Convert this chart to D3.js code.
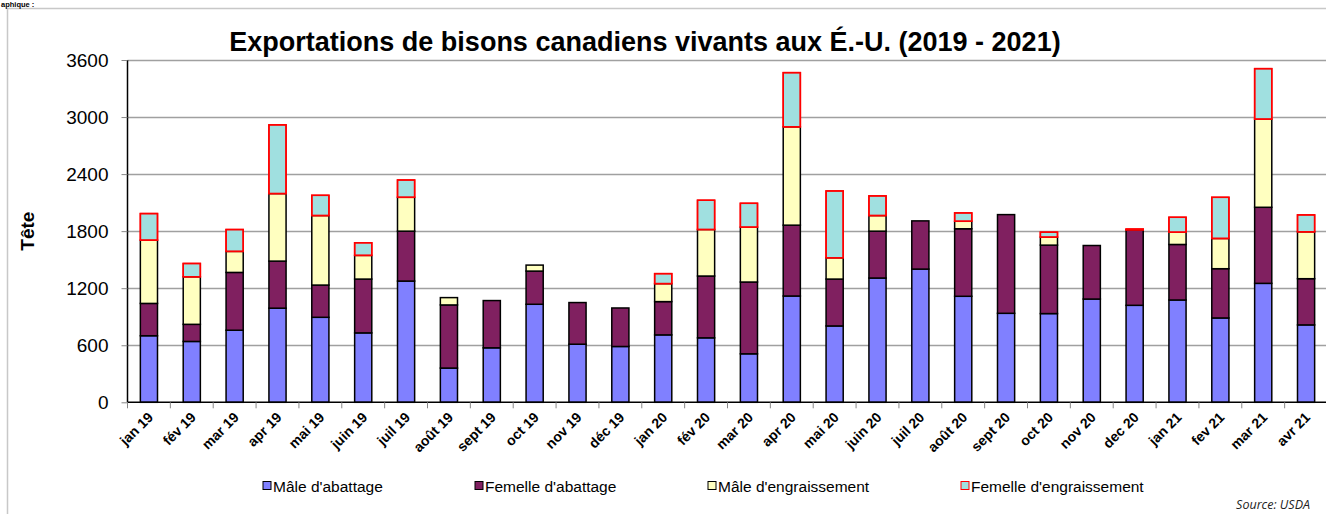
<!DOCTYPE html>
<html>
<head>
<meta charset="utf-8">
<script src="https://cdn.jsdelivr.net/npm/d3@7"></script>
<style>
  html, body { margin: 0; padding: 0; background: #fff; }
  svg { display: block; }
</style>
</head>
<body>
<svg id="chart" width="1326" height="514"></svg>
<script>
// ---- Data ----
const categories = ["jan 19","fév 19","mar 19","apr 19","mai 19","juin 19","juil 19","août 19","sept 19","oct 19","nov 19","déc 19",
  "jan 20","fév 20","mar 20","apr 20","mai 20","juin 20","juil 20","août 20","sept 20","oct 20","nov 20","dec 20",
  "jan 21","fev 21","mar 21","avr 21"];
const seriesNames = ["Mâle d'abattage","Femelle d'abattage","Mâle d'engraissement","Femelle d'engraissement"];
const maleAbattage =      [700, 640, 758, 990, 894, 730,1275, 360, 573,1031, 611, 587, 709, 678, 510,1118, 803,1307,1401,1115, 936, 933,1086,1020,1076, 887,1251, 814];
const femelleAbattage =   [340, 180, 608, 495, 339, 566, 525, 664, 497, 349, 438, 405, 350, 650, 755, 745, 493, 493, 507, 710,1038, 720, 563, 794, 584, 518, 800, 486];
const maleEngraissement = [665, 500, 221, 710, 731, 249, 356,  77,   0,  63,   0,   0, 189, 489, 577,1034, 224, 164,   0,  79,   0,  84,   0,   0, 129, 318, 927, 493];
const femelleEngraissement=[280,140, 230, 723, 213, 133, 182,   0,   0,   0,   0,   0, 105, 308, 251, 570, 703, 207,   0,  88,   0,  52,   0,   8, 157, 433, 531, 178];
const yTicks = [0, 600, 1200, 1800, 2400, 3000, 3600];
const titleText = "Exportations de bisons canadiens vivants aux É.-U. (2019 - 2021)";
const yLabel = "Tête";
const sourceText = "Source: USDA";
const headerText = "aphique :";

// ---- Styles ----
const fills = ["#8080FF", "#802060", "#FFFFC0", "#A0E0E0"];
const strokes = ["#000000", "#000000", "#000000", "#FF0000"];
const FONT = "Liberation Sans, Arial, sans-serif";

const svg = d3.select("#chart");
const margin = { left: 127.5, right: -1.5, top: 60, bottom: 111 };
const W = 1326, H = 514;

// chart border (partial frame)
svg.append("line").attr("x1", 7.5).attr("x2", 7.5).attr("y1", 8).attr("y2", H).attr("stroke", "#c8c8c8").attr("stroke-width", 1.5);
svg.append("line").attr("x1", 7).attr("x2", W).attr("y1", 8.5).attr("y2", 8.5).attr("stroke", "#c8c8c8").attr("stroke-width", 1.5);

svg.append("text").attr("x", 1).attr("y", 7).attr("font-family", FONT)
  .attr("font-weight", "bold").attr("font-size", 7.5).text(headerText);

const table = categories.map((c, i) => ({
  cat: c,
  [seriesNames[0]]: maleAbattage[i],
  [seriesNames[1]]: femelleAbattage[i],
  [seriesNames[2]]: maleEngraissement[i],
  [seriesNames[3]]: femelleEngraissement[i]
}));

const x = d3.scaleBand().domain(categories)
  .range([margin.left, W - margin.right]).paddingInner(0.6).paddingOuter(0.3);
const y = d3.scaleLinear().domain([0, 3600]).range([H - margin.bottom - 0.7, margin.top]);

// gridlines
svg.append("g").selectAll("line").data(yTicks.filter(t => t > 0)).join("line")
  .attr("x1", margin.left).attr("x2", W)
  .attr("y1", d => Math.round(y(d)) + 0.5).attr("y2", d => Math.round(y(d)) + 0.5)
  .attr("stroke", "#a0a0a0").attr("stroke-width", 1.3);

// bars
const stack = d3.stack().keys(seriesNames);
const stacked = stack(table);
const gBars = svg.append("g");
stacked.forEach((layer, si) => {
  gBars.append("g").selectAll("rect")
    .data(layer.filter(d => d[1] - d[0] > 0)).join("rect")
    .attr("x", d => x(d.data.cat))
    .attr("width", x.bandwidth())
    .attr("y", d => y(d[1]))
    .attr("height", d => y(d[0]) - y(d[1]))
    .attr("fill", fills[si])
    .attr("stroke", strokes[si])
    .attr("stroke-width", 1.5);
});
gBars.append("g").selectAll("rect")
  .data(stacked[3].filter(d => d[1] - d[0] > 0)).join("rect")
  .attr("x", d => x(d.data.cat)).attr("width", x.bandwidth())
  .attr("y", d => y(d[1])).attr("height", d => y(d[0]) - y(d[1]))
  .attr("fill", "none").attr("stroke", "#FF0000").attr("stroke-width", 1.5);

// y axis
const yAxis = d3.axisLeft(y).tickValues(yTicks).tickSize(6).tickPadding(13).tickFormat(d3.format("d"));
const gy = svg.append("g").attr("transform", `translate(${margin.left},0)`).call(yAxis);
gy.select(".domain").attr("stroke", "#000").attr("stroke-width", 1.5).attr("d", `M0,${y(0)}V${y(3600)}`);
gy.selectAll(".tick line").attr("stroke", "#888");
gy.selectAll(".tick text").attr("font-family", FONT).attr("font-size", 19).attr("fill", "#000");

// x axis
const xAxis = d3.axisBottom(x).tickSize(0).tickFormat(d => d);
const gx = svg.append("g").attr("transform", `translate(0,${y(0)})`).call(xAxis);
gx.select(".domain").attr("stroke", "#000").attr("stroke-width", 1.5).attr("d", `M${margin.left},0H${W}`);
const step = x.step();
const bounds = categories.map(c => x(c) - (step - x.bandwidth()) / 2);
svg.append("g").selectAll("line").data(bounds).join("line")
  .attr("x1", d => d).attr("x2", d => d)
  .attr("y1", y(0)).attr("y2", y(0) + 6)
  .attr("stroke", "#888").attr("stroke-width", 1);
gx.selectAll(".tick text")
  .attr("font-family", FONT)
  .attr("font-weight", "bold").attr("font-size", 14).attr("fill", "#000")
  .attr("text-anchor", "end")
  .attr("dy", 0).attr("y", 0)
  .attr("transform", "translate(5,16) rotate(-45)");

// title
svg.append("text").attr("x", 645).attr("y", 51).attr("text-anchor", "middle")
  .attr("font-family", FONT).attr("font-weight", "bold")
  .attr("font-size", 27).text(titleText);

// y label
svg.append("text").attr("transform", `translate(34,${(y(0) + y(3600)) / 2}) rotate(-90)`)
  .attr("text-anchor", "middle")
  .attr("font-family", FONT).attr("font-weight", "bold")
  .attr("font-size", 19).text(yLabel);

// legend
const legendX = [263, 475, 708, 961];
const lg = svg.append("g");
seriesNames.forEach((name, i) => {
  lg.append("rect").attr("x", legendX[i]).attr("y", 481.5).attr("width", 8).attr("height", 8)
    .attr("fill", fills[i]).attr("stroke", i === 3 ? "#FF0000" : "#000").attr("stroke-width", 1);
  lg.append("text").attr("x", legendX[i] + 10).attr("y", 491.5)
    .attr("font-family", FONT).attr("font-size", 15.5)
    .text(name);
});

// source
svg.append("text").attr("x", 1310).attr("y", 509).attr("text-anchor", "end")
  .attr("font-family", "Open Sans, sans-serif").attr("font-style", "italic").attr("font-size", 12.5)
  .attr("fill", "#222").text(sourceText);
</script>
</body>
</html>
